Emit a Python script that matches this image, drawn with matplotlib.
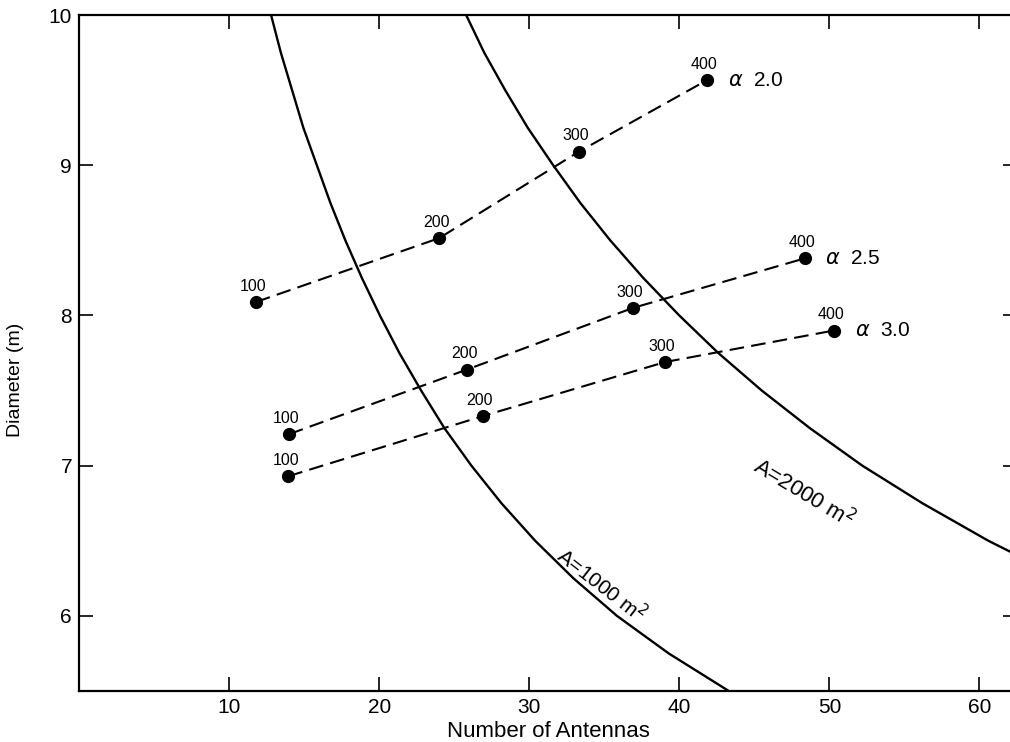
import matplotlib

matplotlib.use("Agg")
import matplotlib.pyplot as plt

plt.rcParams["font.family"] = ["Liberation Sans", "DejaVu Sans"]
plt.rcParams["mathtext.fontset"] = "dejavusans"

# constant-area curves (N, D)
area_1000_n = [12.8, 13.45, 14.2, 14.95, 15.85, 16.75, 17.75, 18.85, 20.05, 21.35,
               22.8, 24.35, 26.15, 28.15, 30.4, 32.95, 35.85, 39.3, 43.3]
area_1000_d = [10.0, 9.75, 9.5, 9.25, 9.0, 8.75, 8.5, 8.25, 8.0, 7.75,
               7.5, 7.25, 7.0, 6.75, 6.5, 6.25, 6.0, 5.75, 5.5]
area_2000_n = [25.8, 27.0, 28.4, 29.9, 31.6, 33.4, 35.4, 37.6, 40.0, 42.6,
               45.5, 48.7, 52.2, 56.2, 60.6, 62.6]
area_2000_d = [10.0, 9.75, 9.5, 9.25, 9.0, 8.75, 8.5, 8.25, 8.0, 7.75,
               7.5, 7.25, 7.0, 6.75, 6.5, 6.4]

# design points for each alpha
point_labels = ["100", "200", "300", "400"]
alpha_names = ["2.0", "2.5", "3.0"]
alpha_20_n = [11.8, 24.0, 33.3, 41.85]
alpha_20_d = [8.09, 8.515, 9.09, 9.567]
alpha_25_n = [14.0, 25.85, 36.9, 48.35]
alpha_25_d = [7.21, 7.64, 8.05, 8.38]
alpha_30_n = [13.95, 26.9, 39.05, 50.3]
alpha_30_d = [6.93, 7.33, 7.69, 7.90]

fig = plt.figure(figsize=(10.1, 7.42), dpi=100)
ax = fig.add_axes([0.0782, 0.0687, 0.9287, 0.911])

ax.plot(area_1000_n, area_1000_d, color="black", lw=1.7, solid_joinstyle="round")
ax.plot(area_2000_n, area_2000_d, color="black", lw=1.7, solid_joinstyle="round")

series = [
    (alpha_20_n, alpha_20_d),
    (alpha_25_n, alpha_25_d),
    (alpha_30_n, alpha_30_d),
]
for (xs, ys), name in zip(series, alpha_names):
    ax.plot(xs, ys, color="black", lw=1.5, dashes=(7, 3.5))
    ax.plot(xs, ys, "o", color="black", ms=8.5)
    for x, y, lab in zip(xs, ys, point_labels):
        ax.annotate(lab, (x, y), xytext=(-2, 6), textcoords="offset points",
                    ha="center", va="bottom", fontsize=11.5)
    ax.annotate(r"$\alpha$  " + name, (xs[-1], ys[-1]), xytext=(15, 0),
                textcoords="offset points", ha="left", va="center", fontsize=15)

ax.text(34.8, 6.21, "A=1000 m$^{2}$", rotation=-38, ha="center", va="center",
        fontsize=15, rotation_mode="anchor")
ax.text(48.3, 6.82, "A=2000 m$^{2}$", rotation=-31, ha="center", va="center",
        fontsize=16, rotation_mode="anchor")

ax.set_xlim(0, 62.5)
ax.set_ylim(5.5, 10)
ax.set_xticks([10, 20, 30, 40, 50, 60])
ax.set_yticks([6, 7, 8, 9, 10])
ax.tick_params(direction="in", length=10, width=1.2, top=True, right=True,
               labelsize=15, pad=5)
for spine in ax.spines.values():
    spine.set_linewidth(1.6)

ax.set_xlabel("Number of Antennas", fontsize=16)
ax.xaxis.set_label_coords(0.5, -0.044)
ax.set_ylabel("Diameter (m)", fontsize=14)
ax.yaxis.set_label_coords(-0.059, 0.46)

fig.savefig("out.png", dpi=100)
